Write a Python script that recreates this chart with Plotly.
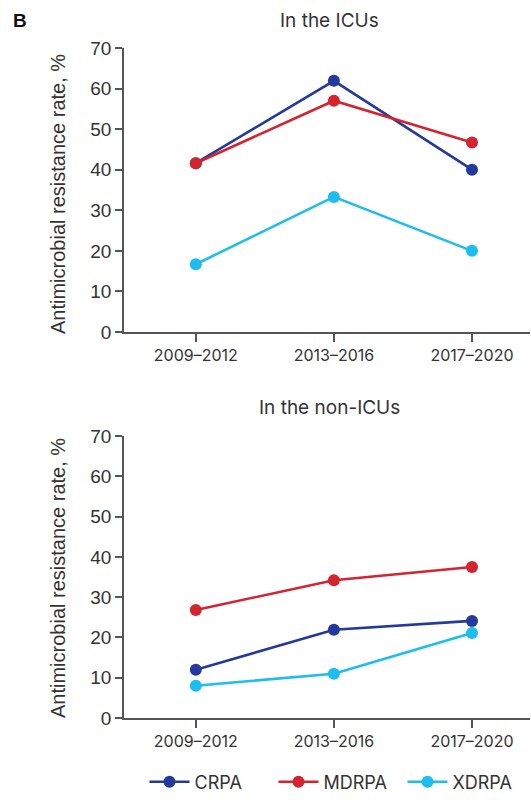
import plotly.graph_objects as go

periods = ["2009–2012", "2013–2016", "2017–2020"]
series_names = ["CRPA", "MDRPA", "XDRPA"]
colors = ["#24399c", "#d42430", "#1cbdef"]
icu_values = {
    "CRPA": [41.6, 61.9, 40.0],
    "MDRPA": [41.6, 57.0, 46.7],
    "XDRPA": [16.7, 33.3, 20.0],
}
nonicu_values = {
    "CRPA": [12.0, 21.9, 24.1],
    "MDRPA": [26.8, 34.2, 37.5],
    "XDRPA": [8.0, 11.0, 21.1],
}
y_ticks = [0, 10, 20, 30, 40, 50, 60, 70]

W, H = 531, 800
fig = go.Figure()

for name, col in zip(series_names, colors):
    fig.add_trace(go.Scatter(x=periods, y=icu_values[name], name=name, mode="lines+markers",
                             line=dict(color=col, width=2.6), marker=dict(size=12, color=col),
                             xaxis="x", yaxis="y", showlegend=True))
    fig.add_trace(go.Scatter(x=periods, y=nonicu_values[name], name=name, mode="lines+markers",
                             line=dict(color=col, width=2.6), marker=dict(size=12, color=col),
                             xaxis="x2", yaxis="y2", showlegend=False))

xdom = [124 / W, 530 / W]
axis_col = "#555555"
common_x = dict(type="category", range=[-0.52, 2.42], showline=True, linecolor=axis_col, linewidth=1.5,
                ticks="outside", ticklen=8, tickcolor=axis_col, tickwidth=1.5, automargin=False,
                tickfont=dict(family="Inter", size=16, color="#333"), showgrid=False, zeroline=False,
                domain=xdom)
common_y = dict(range=[0, 70], tickvals=y_ticks, showline=True, linecolor=axis_col, linewidth=1.5,
                ticks="outside", ticklen=7, tickcolor=axis_col, tickwidth=1.5, automargin=False,
                tickfont=dict(family="Liberation Sans", size=19, color="#333"), showgrid=False, zeroline=False)

fig.update_layout(
    width=W, height=H, margin=dict(l=0, r=0, t=0, b=0, autoexpand=False),
    plot_bgcolor="white", paper_bgcolor="white",
    xaxis=dict(**common_x, anchor="y"),
    yaxis=dict(**common_y, domain=[1 - 332 / H, 1 - 48 / H], anchor="x"),
    xaxis2=dict(**common_x, anchor="y2"),
    yaxis2=dict(**common_y, domain=[1 - 718 / H, 1 - 436 / H], anchor="x2"),
    legend=dict(orientation="h", x=338 / W, xanchor="center", y=1 - 782 / H, yanchor="middle",
                font=dict(family="Inter", size=18, color="#333"), itemwidth=40,
                entrywidth=74, entrywidthmode="pixels", bgcolor="rgba(0,0,0,0)"),
    annotations=[
        dict(text="<b>B</b>", x=11 / W, y=1 - 20 / H, xref="paper", yref="paper", showarrow=False,
             xanchor="left", yanchor="middle", font=dict(family="Liberation Sans", size=19, color="#111")),
        dict(text="In the ICUs", x=329 / W, y=1 - 20 / H, xref="paper", yref="paper", showarrow=False,
             xanchor="center", yanchor="middle", font=dict(family="Inter", size=19, color="#333")),
        dict(text="In the non-ICUs", x=329 / W, y=1 - 407 / H, xref="paper", yref="paper", showarrow=False,
             xanchor="center", yanchor="middle", font=dict(family="Inter", size=19, color="#333")),
        dict(text="Antimicrobial resistance rate, %", x=58 / W, y=1 - 194 / H, xref="paper", yref="paper",
             showarrow=False, textangle=-90, xanchor="center", yanchor="middle",
             font=dict(family="Liberation Sans", size=20, color="#333")),
        dict(text="Antimicrobial resistance rate, %", x=58 / W, y=1 - 578 / H, xref="paper", yref="paper",
             showarrow=False, textangle=-90, xanchor="center", yanchor="middle",
             font=dict(family="Liberation Sans", size=20, color="#333")),
    ],
)

fig.write_html("out.html")
